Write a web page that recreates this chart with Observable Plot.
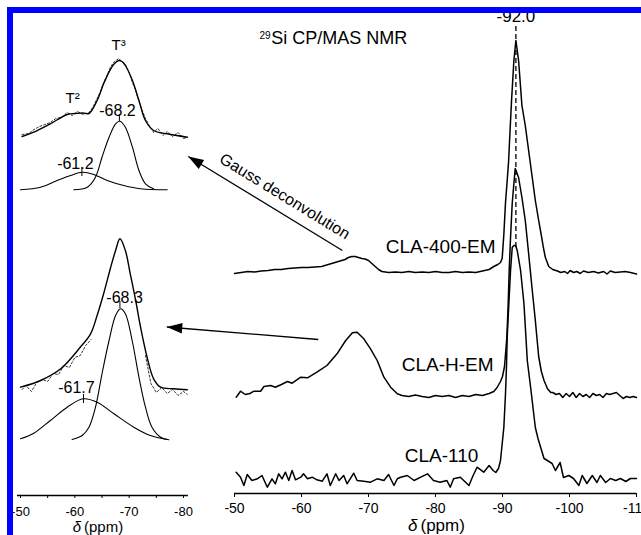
<!DOCTYPE html>
<html>
<head>
<meta charset="utf-8">
<script src="https://cdn.jsdelivr.net/npm/d3@7"></script>
<script src="https://cdn.jsdelivr.net/npm/@observablehq/plot@0.6"></script>
<style>
  html, body { margin: 0; padding: 0; background: #fff; color: #000; }
  #wrap { position: relative; width: 641px; height: 535px; overflow: hidden; background: #fff; }
  #wrap svg { position: absolute; left: 0; top: 0; }
  #wrap svg text { font-family: 'Liberation Sans', Arial, Helvetica, sans-serif; }
  #frame { position: absolute; left: 7px; top: 7px; width: 640px; height: 540px;
           border-left: 6px solid #0000ff; border-top: 6px solid #0000ff; pointer-events: none; }
</style>
</head>
<body>
<div id="wrap"><div id="frame"></div></div>
<script>
// ---------------- DATA (ppm, intensity above own baseline) ----------------
const seriesNames = ["CLA-400-EM", "CLA-H-EM", "CLA-110"];
const seriesOffsets = [221, 97, 13];

const cla400 = [[-50,-1],[-51,0],[-52,1],[-53,0.5],[-54,1.5],[-55,2],[-56,3],[-57,3],[-58,4],[-59,4.5],[-60,5],[-61,5],[-62,5.5],[-63,6],[-64,8],[-65,10],[-66,12],
  [-66.5,13],[-67,15],[-67.5,16],[-68,16],[-68.5,15],[-69,14],[-69.5,13.5],[-70,12],[-70.5,9],[-71,6],[-71.5,3],[-72,1],
  [-73,0],[-74,0.5],[-75,0],[-76,1],[-77,0],[-78,0.5],[-79,0],[-80,1],[-81,0],[-82,0],[-83,1],[-84,0],[-85,0.5],[-86,0],[-87,1.5],[-88,3],
  [-88.7,6],[-89.3,8],[-89.7,10],[-89.95,14],[-90.2,38],[-90.45,70],[-90.7,92],[-90.9,110],[-91.1,138],[-91.35,172],[-91.7,212],[-92.0,232],
  [-92.4,212],[-92.9,167],[-93.4,147],[-93.9,122],[-94.4,97],[-94.9,72],[-95.4,52],[-95.8,37],[-96.1,25],[-96.4,15],[-96.9,6],[-97.5,3],[-98.2,1.5],[-98.7,0],
  [-99.3,1],[-99.7,-1],[-100.1,2],[-100.6,0],[-101.1,1],[-101.6,-1],[-102.1,1.5],[-102.8,0],[-103.6,1],[-104.3,-0.5],[-105.1,1],[-105.6,-1.5],[-106.1,1.5],[-106.8,0],[-107.6,0.5],[-108.3,1],[-109.1,0],[-110,-1.5]];

const claHEM = [[-50.25,-0.7],[-50.9,5.3],[-51.6,2],[-52.3,3],[-52.9,5.3],[-53.9,5.3],[-54.4,10],[-55.4,11],[-56.1,9.3],[-57.0,12],[-57.9,15],[-58.6,13.3],[-59.9,19.3],[-60.9,18.7],
  [-62.3,24.3],[-63.8,31],[-65.3,42.7],[-66.6,56],[-67.6,63.7],[-68.3,64.3],[-69.3,57.7],[-70.3,47.7],[-71.3,36],[-72.3,19.3],[-73.3,9.3],[-74.3,2.7],
  [-75,1],[-76,0],[-77,1.5],[-78,0],[-79,-1],[-80,1],[-81,0],[-82,1],[-83,-1],[-84,1],[-85,0],[-86,2],[-87,1],[-88,3],[-88.7,5],
  [-89.2,9],[-89.7,15],[-90.0,20],[-90.3,30],[-90.65,59],[-90.85,93],[-91.0,126],[-91.2,159],[-91.45,193],[-91.7,213],[-91.9,228],
  [-92.4,219],[-92.9,199],[-93.4,176],[-93.9,143],[-94.4,109],[-94.9,76],[-95.4,40],[-95.8,25],[-96.2,16],[-96.7,8],[-97.2,4],
  [-97.5,4],[-98,2],[-98.5,3],[-99,-1],[-99.5,3],[-100,0],[-100.5,4],[-101,-1],[-101.5,3],[-102,0],[-102.5,2],[-103,-1],[-103.5,3],[-104,1],[-104.5,2],
  [-105,-1],[-105.5,3],[-106,2],[-106.5,3],[-107,4],[-107.5,1],[-108,-2],[-108.5,0],[-109,-1],[-109.5,0],[-110,-1]];

const cla110 = [[-50.25,8.3],[-50.9,3.3],[-51.4,-5],[-51.9,6],[-52.6,0],[-53.4,1.7],[-54.1,5],[-54.9,-6.7],[-55.6,1.7],[-56.1,-3.3],[-56.6,6.7],[-57.1,1.7],[-57.6,8.3],[-58.1,0],
  [-58.6,10],[-59.1,0.7],[-59.9,3.3],[-60.3,6.7],[-60.9,1.7],[-61.6,3.3],[-62.3,0.7],[-63.1,-0.7],[-63.8,6.7],[-64.3,-5],[-65.1,6.7],[-65.6,0],[-66.3,5],[-66.8,-3.3],
  [-67.8,7.3],[-68.3,0],[-69.3,-0.7],[-70.3,-1.7],[-71.3,1.7],[-72.3,0],[-73.0,6],[-73.8,-5],[-74.3,1.7],[-74.8,3.3],[-75.8,5],[-76.8,0],[-77.8,3.3],[-78.8,6.7],
  [-79.7,0],[-80.7,-1.7],[-81.7,0],[-82.2,-6.7],[-82.7,1.7],[-83.7,3.3],[-85.0,-5],[-85.5,3.3],[-86.2,13.3],[-87.2,8.3],[-88.0,15],[-88.6,10],[-89.0,8],
  [-89.4,12],[-89.7,20],[-90.2,53],[-90.45,87],[-90.6,115],[-90.7,143],[-90.95,177],[-91.2,210],[-91.45,233],[-91.7,235],[-91.95,235],[-92.2,230],
  [-92.7,210],[-93.2,177],[-93.5,143],[-93.7,120],[-94.2,93],[-94.9,53],[-95.3,42],[-95.7,33],[-96.2,22],[-96.7,20],[-97.4,17],[-97.9,10],[-98.6,18],
  [-99.1,3],[-99.9,5],[-100.6,2],[-101.4,-5],[-101.9,5],[-102.6,-3],[-103.4,5],[-104.1,-2],[-104.6,5],[-105.4,-2],[-106.1,2],[-106.9,0],[-107.6,2],[-108.4,-1],[-109.1,2],[-110,2]];

const mainSeries = [cla400, claHEM, cla110];
const peakShift = -92.0;
const peakGuide = [{ppm: -92.0, y1: 246, y2: 468}];
const mainTicks = [-50, -60, -70, -80, -90, -100, -110];

// inset: Gauss deconvolution (intensity in inset units)
const sum400 = [[-50.3,359],[-52.45,363.3],[-55.5,371.7],[-58.6,381],[-60.1,382],[-61.5,382.5],[-62.6,382],[-64.1,395],[-65.3,411.7],[-66.6,426.7],[-67.3,432],
  [-68.1,435],[-68.8,433.5],[-69.3,430],[-70.6,415],[-71.8,395],[-73.0,375],[-74.5,365],[-77.0,361.7],[-80.7,358.3]];
const exp400 = [[-50.3,361],[-51.5,362],[-52.5,366],[-53.5,369],[-54.5,371],[-55.5,373],[-56.5,377],[-57.5,378],[-58.6,383],[-59.5,380],[-60.5,384],[-61.5,381],
  [-62.6,383],[-63.3,388],[-64.1,397],[-64.7,404],[-65.3,413],[-66.0,421],[-66.6,429],[-67.3,434],[-68.1,437],[-68.8,433],[-69.3,431],[-70.0,423],[-70.6,413],
  [-71.2,405],[-71.8,394],[-72.4,385],[-73.0,377],[-73.7,370],[-74.5,363],[-75.3,367],[-76.2,360],[-77.0,364],[-78.0,359],[-79.0,363],[-80.0,357],[-80.7,358]];
const gauss400T2 = [[-50,305.7],[-53.7,308.3],[-56.75,315],[-59.2,320],[-61.35,323.3],[-63.5,321],[-65.95,315],[-69.0,310],[-72.1,306.7],[-77.0,305.7]];
const gauss400T3 = [[-59.8,305.7],[-62.3,308.3],[-63.8,318.3],[-65.0,338.3],[-66.3,358.3],[-67.5,371.7],[-68.3,374.3],[-69.3,368.3],[-70.6,348.3],[-71.8,325],[-73.0,311.7],[-74.5,306.7]];

const sumHEM = [[-50,108.3],[-53.7,115],[-57.4,126.7],[-61.0,148.3],[-62.9,161.7],[-64.1,180],[-65.3,201.7],[-66.6,228.3],[-67.5,245],[-68.3,256.7],[-69.3,245],
  [-70.2,221.7],[-71.2,195],[-72.1,168.3],[-73.3,138.3],[-74.5,116.7],[-75.8,108.3],[-78.2,106.7],[-80.7,105.7]];
const expHEMLeft = [[-50.3,106],[-51,110],[-52,104],[-53,113],[-54,116],[-55,114],[-56,122],[-57,121],[-58,130],[-59,128],[-60,138],[-61,140],[-62,150],[-63,156]];
const expHEMRight = [[-73,140],[-74,112],[-75,103],[-76,108],[-77,102],[-78,106],[-79,100],[-80,104],[-80.7,101]];
const gaussHEMT2 = [[-50,56.7],[-52.45,62.3],[-55.5,75],[-58.6,88.3],[-61.55,96.7],[-64.1,93.3],[-67.2,81.7],[-70.85,68.3],[-73.9,60],[-77.0,56]];
const gaussHEMT3 = [[-59.5,56],[-61.35,60],[-62.6,68.3],[-63.8,88.3],[-65.0,121.7],[-66.3,155],[-67.5,180],[-68.4,186.7],[-69.3,181.7],[-70.55,155],
  [-71.8,118.3],[-73.0,88.3],[-74.2,68.3],[-75.8,58.3],[-77.3,55.7]];

const peakMarks = [{ppm:-68.2, y1:374, y2:381}, {ppm:-61.3, y1:319, y2:328}, {ppm:-68.3, y1:187, y2:194}, {ppm:-61.6, y1:92, y2:101}];
const insetLabels = [
  {text:"T³", ppm:-68.05, y:450, size:15}, {text:"T²", ppm:-59.6, y:397, size:15},
  {text:"-68.2", ppm:-67.85, y:385, size:16}, {text:"-61.2", ppm:-60.1, y:332, size:16},
  {text:"-68.3", ppm:-69.15, y:198, size:16}, {text:"-61.7", ppm:-60.3, y:108, size:16}];
const insetTicks = [-50, -55, -60, -65, -70, -75, -80];
const insetAxisExtent = [{x1:-49.45, x2:-80.9}];

// annotations (main panel units)
const seriesLabels = [
  {text:"CLA-400-EM", ppm:-88.96, y:241}, {text:"CLA-H-EM", ppm:-88.66, y:123}, {text:"CLA-110", ppm:-86.4, y:31.3}];
const arrows = [{x1:-66.1, y1:243, x2:-43.1, y2:337}, {x1:-62.5, y1:154, x2:-39.9, y2:166.5}];

// ---------------- LAYOUT ----------------
const W = 641, H = 535;
const font = "'Liberation Sans', Arial, Helvetica, sans-serif";
const mainM = {left: 234, right: 5, top: 33, bottom: 42};
const insetM = {left: 20, right: 458, top: 35, bottom: 40};
const yDomain = [0, 460];

const mainRows = mainSeries.flatMap((s, i) => s.map(([ppm, v]) => ({ppm, y: v + seriesOffsets[i], series: seriesNames[i]})));
const rows = (pairs, name) => pairs.map(([ppm, v]) => ({ppm, y: v, series: name}));

// arrowhead orientation from the same scales Plot will use
const xs = d3.scaleLinear([-50, -110], [mainM.left, W - mainM.right]);
const ys = d3.scaleLinear(yDomain, [H - mainM.bottom, mainM.top]);
const heads = arrows.map(a => ({
  x: a.x2, y: a.y2,
  angle: Math.atan2(xs(a.x2) - xs(a.x1), -(ys(a.y2) - ys(a.y1))) * 180 / Math.PI
}));
const arrowHead = {
  draw(ctx, size) {
    const r = Math.sqrt(size / Math.PI);
    ctx.moveTo(0, 0); ctx.lineTo(-0.95 * r, 2.8 * r); ctx.lineTo(0.95 * r, 2.8 * r); ctx.closePath();
  }
};

const svgStyle = {background: "transparent", fontFamily: font, overflow: "visible", color: "#000"};

const main = Plot.plot({
  width: W, height: H,
  marginLeft: mainM.left, marginRight: mainM.right, marginTop: mainM.top, marginBottom: mainM.bottom,
  style: svgStyle,
  x: {domain: [-50, -110], axis: null},
  y: {domain: yDomain, axis: null},
  marks: [
    Plot.ruleX(peakGuide, {x: "ppm", y1: "y1", y2: "y2", stroke: "#000", strokeWidth: 1.3, strokeDasharray: "5,3"}),
    Plot.line(mainRows, {x: "ppm", y: "y", z: "series", stroke: "#000", strokeWidth: 1.5, strokeLinejoin: "round"}),
    Plot.ruleY([0], {stroke: "#000", strokeWidth: 1.5}),
    Plot.axisX({ticks: mainTicks, tickSize: 4, tickPadding: 6, fontSize: 14, fontFamily: font, tickFormat: d => String(d), label: null}),
    Plot.text(["δ"], {x: -80, y: -32, dx: -18, textAnchor: "end", fontStyle: "italic", fontSize: 17, fontFamily: font}),
    Plot.text(["(ppm)"], {x: -80, y: -32, dx: -15, textAnchor: "start", fontSize: 17, fontFamily: font}),
    Plot.text(seriesLabels, {x: "ppm", y: "y", text: "text", textAnchor: "end", lineAnchor: "bottom", fontSize: 19, fontFamily: font}),
    Plot.text([String(peakShift.toFixed(1))], {x: peakShift, y: 472, lineAnchor: "bottom", fontSize: 17, fontFamily: font}),
    Plot.text(["29"], {x: -53.73, y: 455, textAnchor: "start", lineAnchor: "bottom", fontSize: 10, fontFamily: font}),
    Plot.text(["Si CP/MAS NMR"], {x: -55.48, y: 450, textAnchor: "start", lineAnchor: "bottom", fontSize: 18, fontFamily: font}),
    Plot.text(["Gauss deconvolution"], {x: -57.5, y: 297, rotate: 31.5, fontSize: 16, fontFamily: font}),
    Plot.link(arrows, {x1: "x1", y1: "y1", x2: "x2", y2: "y2", stroke: "#000", strokeWidth: 1.3}),
    Plot.dot(heads, {x: "x", y: "y", rotate: "angle", symbol: arrowHead, r: 5.5, fill: "#000", stroke: "none"})
  ]
});

const inset = Plot.plot({
  width: W, height: H,
  marginLeft: insetM.left, marginRight: insetM.right, marginTop: insetM.top, marginBottom: insetM.bottom,
  style: svgStyle,
  x: {domain: [-50, -80], axis: null},
  y: {domain: yDomain, axis: null},
  marks: [
    Plot.line(rows(exp400, "e400"), {x: "ppm", y: "y", stroke: "#000", strokeWidth: 0.8, strokeDasharray: "2,2"}),
    Plot.line(rows(expHEMLeft, "eL"), {x: "ppm", y: "y", stroke: "#000", strokeWidth: 0.8, strokeDasharray: "2,2"}),
    Plot.line(rows(expHEMRight, "eR"), {x: "ppm", y: "y", stroke: "#000", strokeWidth: 0.8, strokeDasharray: "2,2"}),
    Plot.line(rows(sum400, "s400"), {x: "ppm", y: "y", stroke: "#000", strokeWidth: 1.4, curve: "catmull-rom"}),
    Plot.line(rows(sumHEM, "sHEM"), {x: "ppm", y: "y", stroke: "#000", strokeWidth: 1.4, curve: "catmull-rom"}),
    Plot.line(rows(gauss400T2, "g1"), {x: "ppm", y: "y", stroke: "#000", strokeWidth: 1.1, curve: "catmull-rom"}),
    Plot.line(rows(gauss400T3, "g2"), {x: "ppm", y: "y", stroke: "#000", strokeWidth: 1.1, curve: "catmull-rom"}),
    Plot.line(rows(gaussHEMT2, "g3"), {x: "ppm", y: "y", stroke: "#000", strokeWidth: 1.1, curve: "catmull-rom"}),
    Plot.line(rows(gaussHEMT3, "g4"), {x: "ppm", y: "y", stroke: "#000", strokeWidth: 1.1, curve: "catmull-rom"}),
    Plot.ruleX(peakMarks, {x: "ppm", y1: "y1", y2: "y2", stroke: "#000", strokeWidth: 1}),
    Plot.ruleY(insetAxisExtent, {y: () => 0, x1: "x1", x2: "x2", stroke: "#000", strokeWidth: 1.3}),
    Plot.axisX({ticks: insetTicks, tickSize: 3, tickPadding: 8, fontSize: 13, fontFamily: font,
      tickFormat: d => (d % 10 === 0 ? String(d) : ""), label: null}),
    Plot.text(["δ"], {x: -65, y: -32, dx: -21, textAnchor: "end", fontStyle: "italic", fontSize: 15, fontFamily: font}),
    Plot.text(["(ppm)"], {x: -65, y: -32, dx: -18, textAnchor: "start", fontSize: 15, fontFamily: font}),
    Plot.text(insetLabels, {x: "ppm", y: "y", text: "text", fontSize: d => d.size, fontFamily: font})
  ]
});

const wrap = document.getElementById("wrap");
wrap.insertBefore(main, wrap.firstChild);
wrap.insertBefore(inset, document.getElementById("frame"));
</script>
</body>
</html>
